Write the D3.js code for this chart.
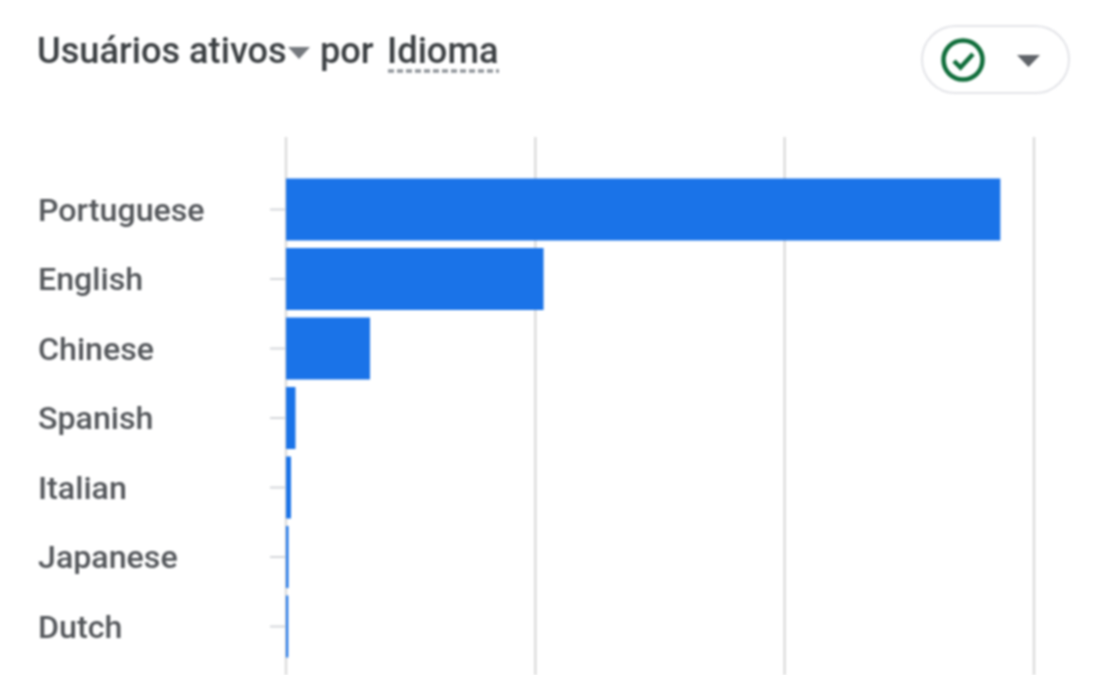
<!DOCTYPE html>
<html>
<head>
<meta charset="utf-8">
<script src="https://cdn.jsdelivr.net/npm/d3@7"></script>
<style>
html, body { margin: 0; padding: 0; background: #fff; overflow: hidden; }
svg { display: block; filter: blur(0.9px); }
text { font-family: Roboto, sans-serif; }
</style>
</head>
<body>
<svg width="1117" height="675"></svg>
<script>
const idiomas = ["Portuguese", "English", "Chinese", "Spanish", "Italian", "Japanese", "Dutch"];
const usuarios = [2865, 1033, 337, 38, 20, 10, 9];
const marcas = [0, 1000, 2000, 3000];

const svg = d3.select('svg');

const bar_color = "#1a73e8";
const grid_color = "#dcdcdc";
const tick_color = "#d5d7da";
const label_color = "#54575b";
const title_color = "#3c4043";

// échelles
const xScale = d3.scaleLinear()
	.domain([0, 3000])
	.range([286, 1034]);
const yScale = d3.scaleBand()
	.domain(idiomas)
	.range([174.75, 661.25])
	.paddingInner(0.108)
	.paddingOuter(0.054);

// grille verticale
svg.append('g').selectAll('line').data(marcas)
	.enter().append('line')
	.attr('x1', d => xScale(d))
	.attr('x2', d => xScale(d))
	.attr('y1', 137)
	.attr('y2', 675)
	.attr('stroke', grid_color)
	.attr('stroke-width', 2.5);

// barres
svg.append('g').selectAll('rect').data(idiomas)
	.enter().append('rect')
	.attr('x', xScale(0))
	.attr('y', d => yScale(d))
	.attr('width', (d, i) => xScale(usuarios[i]) - xScale(0))
	.attr('height', yScale.bandwidth())
	.attr('fill', bar_color);

// axe des catégories
const yAxis = svg.append('g')
	.attr('transform', `translate(${xScale(0)},0)`)
	.call(d3.axisLeft(yScale).tickSize(16).tickPadding(0));
yAxis.select('.domain').remove();
yAxis.selectAll('.tick line').attr('stroke', tick_color).attr('stroke-width', 2);
yAxis.selectAll('.tick text')
	.attr('x', 38 - xScale(0))
	.attr('y', 1)
	.attr('text-anchor', 'start')
	.attr('fill', label_color)
	.style('font-family', 'Roboto, sans-serif')
	.style('font-size', '32.2px')
	.style('font-weight', 500);

// titre
const title = svg.append('text')
	.attr('y', 62.5)
	.attr('fill', title_color)
	.style('font-size', '36.2px')
	.style('font-weight', 500);
title.append('tspan').attr('x', 37).text('Usuários ativos');
title.append('tspan').attr('x', 320).text('por');
title.append('tspan').attr('x', 387).text('Idioma');

// petit triangle du titre
svg.append('path')
	.attr('d', 'M288,47 L310,47 L299,59 Z')
	.attr('fill', '#75797e');

// soulignement pointillé
svg.append('line')
	.attr('x1', 388).attr('x2', 499)
	.attr('y1', 71).attr('y2', 71)
	.attr('stroke', '#8f9499')
	.attr('stroke-width', 3.5)
	.attr('stroke-dasharray', '6 3');

// bouton
svg.append('rect')
	.attr('x', 922).attr('y', 26)
	.attr('width', 147).attr('height', 67)
	.attr('rx', 33.5)
	.attr('fill', '#fff')
	.attr('stroke', '#e3e4e8')
	.attr('stroke-width', 2);
svg.append('circle')
	.attr('cx', 963).attr('cy', 60).attr('r', 19.5)
	.attr('fill', 'none')
	.attr('stroke', '#0f6d3a')
	.attr('stroke-width', 4.5);
svg.append('path')
	.attr('d', 'M954,61 L960.5,67.5 L973,54')
	.attr('fill', 'none')
	.attr('stroke', '#0f6d3a')
	.attr('stroke-width', 4.5);
svg.append('path')
	.attr('d', 'M1017,55 L1040,55 L1028.5,67 Z')
	.attr('fill', '#5f6368');
</script>
</body>
</html>
